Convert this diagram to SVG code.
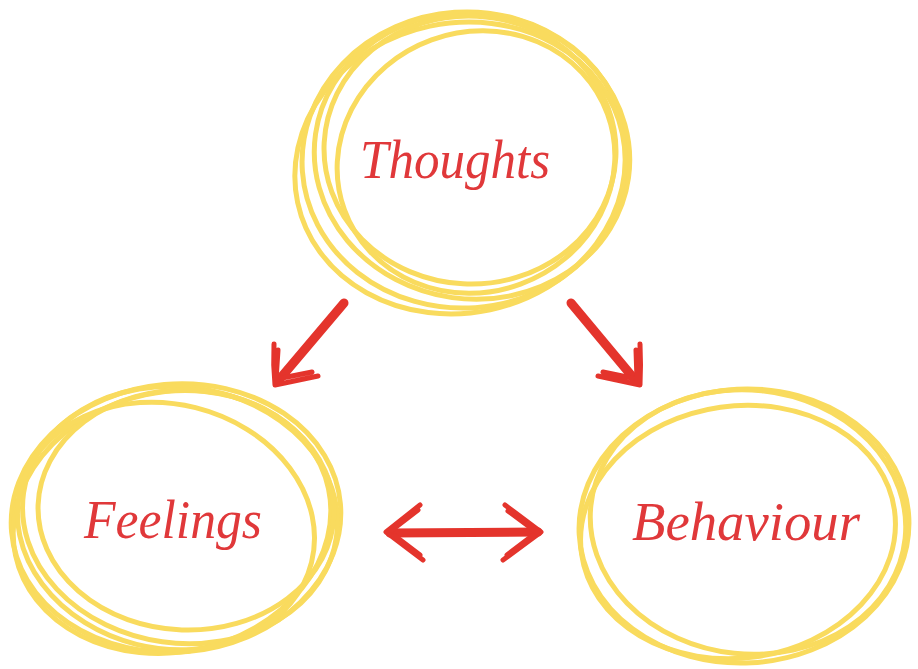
<svg xmlns="http://www.w3.org/2000/svg" width="918" height="669" viewBox="0 0 918 669">
  <style>
    .ring { fill: none; stroke: #F9DB5E; stroke-width: 5; stroke-linecap: round; }
    .label { font-family: "Liberation Serif", "DejaVu Serif", serif; font-style: italic; font-size: 54px; fill: #E0383A; text-anchor: middle; }
    .arrow { fill: none; stroke: #E4342C; stroke-width: 9; stroke-linecap: round; stroke-linejoin: round; }
    .head { fill: none; stroke: #E4342C; stroke-width: 5; stroke-linecap: round; stroke-linejoin: round; }
  </style>
  <rect width="918" height="669" fill="#ffffff"/>

  <g id="thoughts">
    <ellipse class="ring" cx="465" cy="160" rx="163" ry="148" transform="rotate(-4 465 160)"/>
    <ellipse class="ring" cx="472" cy="156" rx="158" ry="143" transform="rotate(8 472 156)"/>
    <ellipse class="ring" cx="460" cy="168" rx="166" ry="145" transform="rotate(-12 460 168)"/>
    <ellipse class="ring" cx="470" cy="150" rx="146" ry="134" transform="rotate(3 470 150)"/>
    <ellipse class="ring" cx="476" cy="162" rx="140" ry="130" transform="rotate(-20 476 162)"/>
    <text class="label" x="455" y="178" textLength="190" lengthAdjust="spacingAndGlyphs">Thoughts</text>
  </g>

  <g id="feelings">
    <ellipse class="ring" cx="176" cy="518" rx="165" ry="134" transform="rotate(-5 176 518)"/>
    <ellipse class="ring" cx="180" cy="515" rx="158" ry="128" transform="rotate(8 180 515)"/>
    <ellipse class="ring" cx="172" cy="522" rx="160" ry="130" transform="rotate(-12 172 522)"/>
    <ellipse class="ring" cx="186" cy="510" rx="148" ry="120" transform="rotate(2 186 510)"/>
    <ellipse class="ring" cx="166" cy="526" rx="150" ry="122" transform="rotate(14 166 526)"/>
    <text class="label" x="173" y="538" textLength="178" lengthAdjust="spacingAndGlyphs">Feelings</text>
  </g>

  <g id="behaviour">
    <ellipse class="ring" cx="744" cy="526" rx="165" ry="137" transform="rotate(-3 744 526)"/>
    <ellipse class="ring" cx="748" cy="522" rx="158" ry="132" transform="rotate(6 748 522)"/>
    <ellipse class="ring" cx="738" cy="532" rx="158" ry="126" transform="rotate(-8 738 532)"/>
    <text class="label" x="746" y="540" textLength="228" lengthAdjust="spacingAndGlyphs">Behaviour</text>
  </g>

  <g id="connectors">
    <!-- Thoughts to Feelings -->
    <path class="arrow" d="M344 303 L278 381"/>
    <path class="head" d="M274 344 Q273 365 275 385 L318 376 M278 350 L276 380 M282 378 L312 372"/>
    <!-- Thoughts to Behaviour -->
    <path class="arrow" d="M571 303 L636 381"/>
    <path class="head" d="M640 344 Q641 365 640 385 L598 376 M636 350 L637 380 M603 372 L632 378"/>
    <!-- Feelings to Behaviour -->
    <path class="arrow" d="M390 533 L538 532"/>
    <path class="head" d="M420 505 L386 532 L423 560 M418 510 L392 530 M395 536 L420 555"/>
    <path class="head" d="M505 505 L541 532 L503 560 M508 511 L535 531 M532 536 L507 555"/>
  </g>
</svg>
